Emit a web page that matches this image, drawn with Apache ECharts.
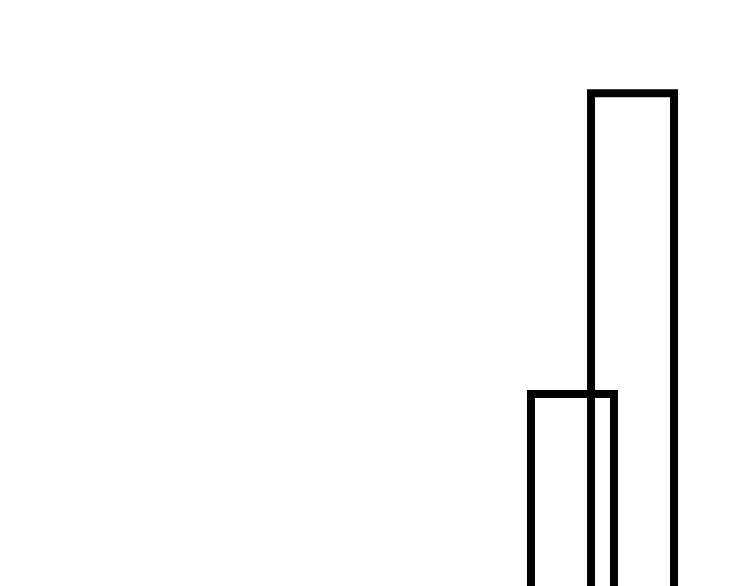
<!DOCTYPE html>
<html>
<head>
<meta charset="utf-8">
<script src="https://cdn.jsdelivr.net/npm/echarts@6/dist/echarts.min.js"></script>
<style>html,body{margin:0;padding:0;background:#fff}#c{width:750px;height:586px}</style>
</head>
<body>
<div id="c"></div>
<script>
const categories = ['A'];
const seriesA = [30];
const seriesB = [60];

const chart = echarts.init(document.getElementById('c'));
const itemStyle = { color: 'rgba(0,0,0,0)', borderColor: '#000', borderWidth: 8 };
chart.setOption({
  animation: false,
  backgroundColor: '#fff',
  grid: { left: 500, right: 45, top: 89.3, bottom: -104.7, containLabel: false, outerBoundsMode: 'none' },
  xAxis: { type: 'category', data: categories, show: false },
  yAxis: { type: 'value', min: 0, max: 60, show: false },
  series: [
    { type: 'bar', data: seriesA, barWidth: 91, barGap: '-34%', itemStyle: itemStyle, clip: false },
    { type: 'bar', data: seriesB, barWidth: 91, barGap: '-34%', itemStyle: itemStyle, clip: false }
  ]
});
</script>
</body>
</html>
